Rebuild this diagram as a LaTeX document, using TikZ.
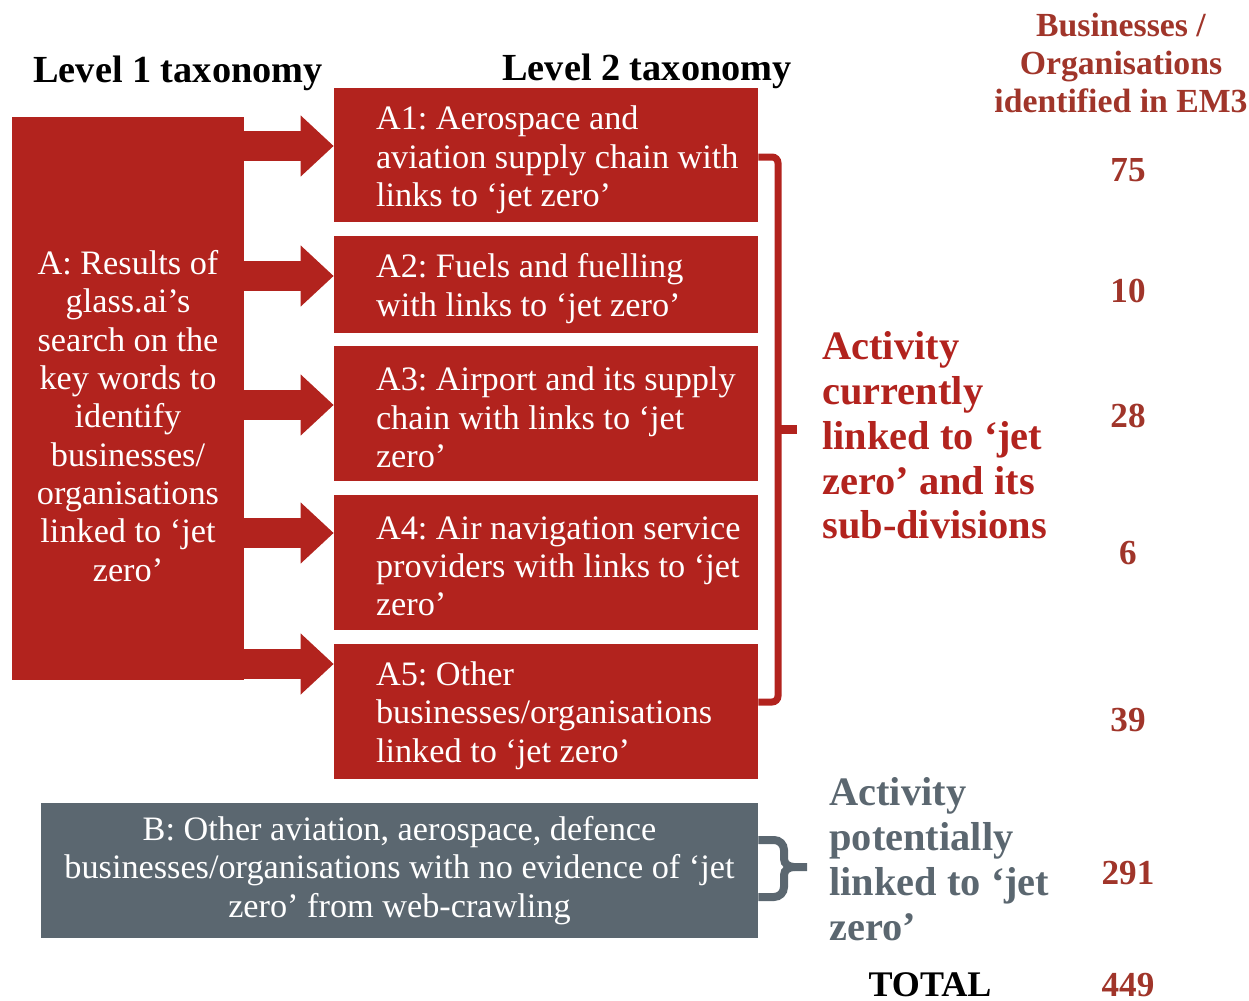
\documentclass[tikz,border=0pt]{standalone}
\usepackage{fontspec}
\setmainfont{Liberation Serif}
\usetikzlibrary{arrows.meta}

\definecolor{jzred}{HTML}{B2231E}
\definecolor{jznum}{HTML}{A0352A}
\definecolor{jzgrey}{HTML}{5B6770}

\newcommand{\boxfont}{\fontsize{19.5}{21.8}\selectfont\frenchspacing}
\newcommand{\headfont}{\fontsize{21.8}{24}\selectfont\bfseries}
\newcommand{\activityfont}{\fontsize{23}{25.5}\selectfont\bfseries}
\newcommand{\numfont}{\fontsize{20}{22}\selectfont\bfseries}

\tikzset{
    redbox/.style={fill=jzred, minimum width=8.48cm, inner sep=0pt},
    boxtext/.style={anchor=west, text=white, inner sep=0pt, align=left, font=\boxfont},
    bigarrow/.style={draw=jzred, line width=0.6cm, -{Triangle[length=0.66cm, width=1.18cm]}},
    brace/.style={line width=0.14cm, rounded corners=0.12cm},
    count/.style={text=jznum, font=\numfont}
}

\begin{document}
\begin{tikzpicture}[x=0.02cm, y=-0.02cm]
                \useasboundingbox (0, 0) rectangle (1249, 1001);

                \node[font=\headfont] (lvl1) at (178, 73) {Level 1 taxonomy};

                \node[font=\headfont] (lvl2) at (647, 71) {Level 2 taxonomy};

                \node[align=center, text=jznum, font=\fontsize{19.2}{21.5}\selectfont\bfseries] (head) at (1121, 63) {Businesses /\\Organisations\\identified in EM3};

                \node[fill=jzred, minimum width=4.64cm, minimum height=11.26cm, inner sep=0pt] (A) at (128, 398.5) {};

                \node[align=center, text=white, font=\boxfont] (Atext) at (128, 416) {A: Results of\\glass.ai’s\\search on the\\key words to\\identify\\businesses/\\organisations\\linked to ‘jet\\zero’};

                \node[redbox, minimum height=2.68cm] (A1) at (546, 155) {};

                \node[boxtext] (A1text) at ([xshift=0.84cm, yshift=-0.1cm]A1.west) {A1: Aerospace and\\aviation supply chain with\\links to ‘jet zero’};

                \node[redbox, minimum height=1.94cm] (A2) at (546, 284.5) {};

                \node[boxtext] (A2text) at ([xshift=0.84cm, yshift=-0.08cm]A2.west) {A2: Fuels and fuelling\\with links to ‘jet zero’};

                \node[redbox, minimum height=2.7cm] (A3) at (546, 413.5) {};

                \node[boxtext] (A3text) at ([xshift=0.84cm, yshift=-0.08cm]A3.west) {A3: Airport and its supply\\chain with links to ‘jet\\zero’};

                \node[redbox, minimum height=2.7cm] (A4) at (546, 562.5) {};

                \node[boxtext] (A4text) at ([xshift=0.84cm, yshift=-0.08cm]A4.west) {A4: Air navigation service\\providers with links to ‘jet\\zero’};

                \node[redbox, minimum height=2.7cm] (A5) at (546, 711.5) {};

                \node[boxtext] (A5text) at ([xshift=0.84cm, yshift=-0.08cm]A5.west) {A5: Other\\businesses/organisations\\linked to ‘jet zero’};

                \node[fill=jzgrey, text=white, minimum width=14.34cm, minimum height=2.7cm, inner sep=0pt, align=center, font=\boxfont] (B) at (399.5, 870.5) {B: Other aviation, aerospace, defence\\businesses/organisations with no evidence of ‘jet\\zero’ from web-crawling};

                \draw[bigarrow] (A.east |- 0, 146) -- (A1.west |- 0, 146);

                \draw[bigarrow] (A.east |- 0, 276) -- (A2.west |- 0, 276);

                \draw[bigarrow] (A.east |- 0, 405) -- (A3.west |- 0, 405);

                \draw[bigarrow] (A.east |- 0, 533) -- (A4.west |- 0, 533);

                \draw[bigarrow] (A.east |- 0, 664) -- (A5.west |- 0, 664);

                % bracket round A1 to A5
                \draw[brace, draw=jzred] (A1.east |- 0, 157) -- (778, 157) -- (778, 702) -- (A5.east |- 0, 702);

                \draw[draw=jzred, line width=0.18cm] (778, 429) -- (797, 429);

                % bracket beside B
                \draw[draw=jzgrey, line width=0.16cm] (B.east |- 0, 840) -- (774, 840) to[out=0, in=90] (784, 850) -- (784, 859) to[out=-90, in=180] (794, 867) -- (807, 867);

                \draw[draw=jzgrey, line width=0.16cm] (B.east |- 0, 897) -- (774, 897) to[out=0, in=-90] (784, 887) -- (784, 875) to[out=90, in=180] (794, 867);

                \node[anchor=west, align=left, text=jzred, font=\activityfont, inner sep=0pt] (current) at (822, 435.5) {Activity\\currently\\linked to ‘jet\\zero’ and its\\sub-divisions};

                \node[anchor=west, align=left, text=jzgrey, font=\activityfont, inner sep=0pt] (potential) at (829, 859) {Activity\\potentially\\linked to ‘jet\\zero’};

                \node[count] (n1) at (1128, 170) {75};

                \node[count] (n2) at (1128, 291) {10};

                \node[count] (n3) at (1128, 416) {28};

                \node[count] (n4) at (1128, 553) {6};

                \node[count] (n5) at (1128, 720) {39};

                \node[count] (nB) at (1128, 873) {291};

                \node[font=\fontsize{20.5}{24}\selectfont\bfseries] (total) at (930, 985) {TOTAL};

                \node[count] (nall) at (1128, 985) {449};
\end{tikzpicture}
\end{document}
